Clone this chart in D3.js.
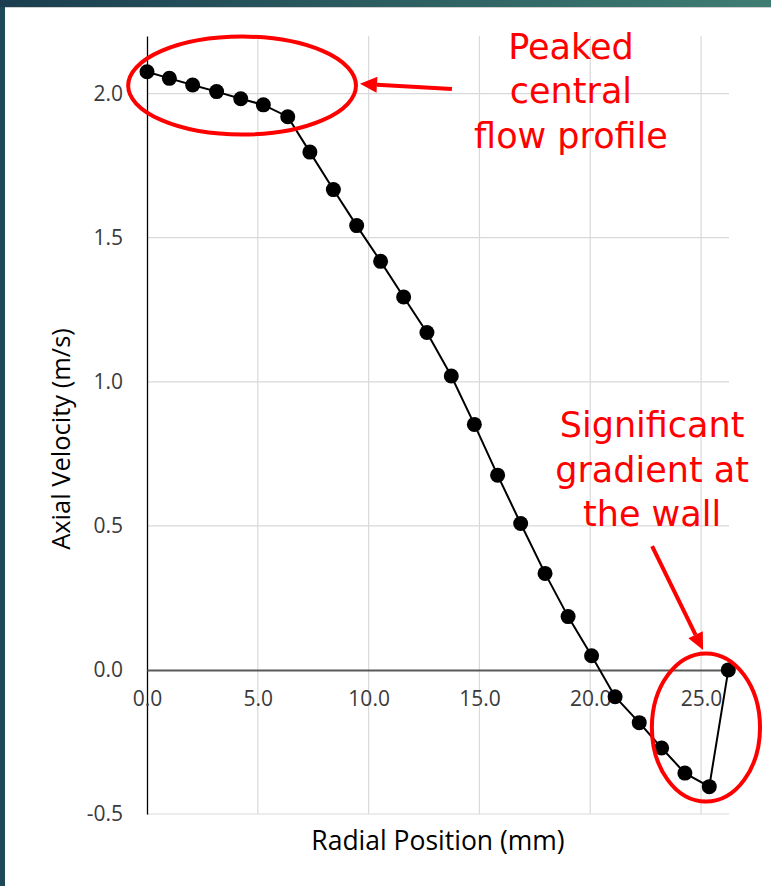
<!DOCTYPE html>
<html>
<head>
<meta charset="utf-8">
<script src="https://cdn.jsdelivr.net/npm/d3@7"></script>
<style>
  html, body { margin: 0; padding: 0; background: #fff; }
  svg { display: block; }
</style>
</head>
<body>
<div id="chart"></div>
<script>
// axial velocity profile across the pipe radius

const radialPos = [0, 1.01, 2.06, 3.14, 4.23, 5.25, 6.35, 7.35, 8.41, 9.46, 10.54, 11.58, 12.63,
  13.73, 14.77, 15.82, 16.86, 17.96, 19.0, 20.06, 21.12, 22.21, 23.22, 24.27, 25.37, 26.23];
const axialVel = [2.076, 2.053, 2.030, 2.007, 1.982, 1.961, 1.920, 1.797, 1.667, 1.542, 1.418, 1.294, 1.171,
  1.020, 0.852, 0.676, 0.508, 0.335, 0.185, 0.049, -0.093, -0.183, -0.271, -0.358, -0.405, 0];
const xTicks = [0, 5, 10, 15, 20, 25];
const yTicks = [-0.5, 0, 0.5, 1.0, 1.5, 2.0];

const xTitle = "Radial Position (mm)";
const yTitle = "Axial Velocity (m/s)";
const note1 = ["Peaked", "central", "flow profile"];
const note2 = ["Significant", "gradient at", "the wall"];

const width = 771;
const height = 886;
const marginTop = 36;
const marginLeft = 147;
const plotRight = 729;
const plotBottom = 814;

const svg = d3.select("#chart").append("svg")
    .attr("width", width)
    .attr("height", height)
    .attr("viewBox", [0, 0, width, height]);

// slide frame
const grad = svg.append("defs").append("linearGradient")
    .attr("id", "band").attr("x1", 0).attr("x2", 1);
grad.append("stop").attr("offset", 0).attr("stop-color", "#1a3e4f");
grad.append("stop").attr("offset", 1).attr("stop-color", "#3f7d73");
svg.append("rect").attr("width", width).attr("height", 7).attr("fill", "url(#band)");
svg.append("rect").attr("y", 7).attr("width", 5).attr("height", height - 7).attr("fill", "#1c4858");
svg.append("line").attr("x1", 5).attr("x2", width).attr("y1", 7.5).attr("y2", 7.5)
    .attr("stroke", "#d0d0d0");

const x = d3.scaleLinear([0, 26.26], [marginLeft, plotRight]);
const y = d3.scaleLinear([-0.5, 2.2], [plotBottom, marginTop]);

// gridlines
svg.append("g")
    .attr("stroke", "#d9d9d9")
    .attr("stroke-width", 1.2)
    .call(g => g.selectAll(".v").data(xTicks.filter(d => d > 0)).join("line")
        .attr("x1", d => x(d)).attr("x2", d => x(d))
        .attr("y1", marginTop).attr("y2", plotBottom))
    .call(g => g.selectAll(".h").data(yTicks.filter(d => d !== 0)).join("line")
        .attr("x1", marginLeft).attr("x2", plotRight)
        .attr("y1", d => y(d)).attr("y2", d => y(d)));

// y axis
svg.append("g")
    .attr("transform", `translate(${marginLeft},0)`)
    .call(d3.axisLeft(y).tickValues(yTicks).tickFormat(d => d.toFixed(1))
        .tickSize(0).tickPadding(24))
    .call(g => g.select(".domain").attr("stroke", "#000").attr("stroke-width", 1.3))
    .call(g => g.selectAll("text")
        .attr("font-family", "'Open Sans', sans-serif")
        .attr("font-size", 21)
        .attr("fill", "#3a3a3a"));

// x axis sits on zero
svg.append("g")
    .attr("transform", `translate(0,${y(0)})`)
    .call(d3.axisBottom(x).tickValues(xTicks).tickFormat(d => d.toFixed(1))
        .tickSize(0).tickPadding(21))
    .call(g => g.select(".domain").attr("stroke", "#595959").attr("stroke-width", 2))
    .call(g => g.selectAll("text")
        .attr("font-family", "'Open Sans', sans-serif")
        .attr("font-size", 21)
        .attr("fill", "#3a3a3a"));

// axis titles
svg.append("text")
    .attr("x", 438)
    .attr("y", 850)
    .attr("text-anchor", "middle")
    .attr("font-family", "'Open Sans', sans-serif")
    .attr("font-size", 26.5)
    .attr("fill", "#000")
    .text(xTitle);

svg.append("text")
    .attr("transform", `translate(70,439) rotate(-90)`)
    .attr("text-anchor", "middle")
    .attr("font-family", "'Open Sans', sans-serif")
    .attr("font-size", 25.5)
    .attr("fill", "#000")
    .text(yTitle);

// profile line + markers
const pts = radialPos.map((r, i) => [r, axialVel[i]]);
svg.append("path")
    .datum(pts)
    .attr("fill", "none")
    .attr("stroke", "#000")
    .attr("stroke-width", 2)
    .attr("d", d3.line().x(d => x(d[0])).y(d => y(d[1])));

svg.append("g")
    .selectAll("circle")
    .data(pts)
    .join("circle")
    .attr("cx", d => x(d[0]))
    .attr("cy", d => y(d[1]))
    .attr("r", 7.5)
    .attr("fill", "#000");

// red callouts (positions in data units)
const red = "#ff0000";
const ann = svg.append("g").attr("fill", "none").attr("stroke", red).attr("stroke-width", 4);
const pxX = 582 / 26.26, pxY = 778 / 2.7;

function ellipse(cx, cy, rx, ry) {
  ann.append("ellipse")
      .attr("cx", x(cx)).attr("cy", y(cy))
      .attr("rx", rx * pxX).attr("ry", ry * pxY);
}

function arrow(x0, y0, x1, y1) {
  const ax = x(x0), ay = y(y0), bx = x(x1), by = y(y1);
  const a = Math.atan2(by - ay, bx - ax);
  const len = 17, half = 8;
  const baseX = bx - len * Math.cos(a), baseY = by - len * Math.sin(a);
  ann.append("line").attr("x1", ax).attr("y1", ay).attr("x2", baseX).attr("y2", baseY);
  ann.append("path")
      .attr("stroke", "none")
      .attr("fill", red)
      .attr("d", d3.line()([
        [bx, by],
        [baseX + half * Math.sin(a), baseY - half * Math.cos(a)],
        [baseX - half * Math.sin(a), baseY + half * Math.cos(a)]
      ]) + "Z");
}

ellipse(4.29, 2.028, 5.14, 0.170);
arrow(13.76, 2.016, 9.61, 2.034);
ellipse(25.22, -0.200, 2.44, 0.257);
arrow(22.79, 0.430, 25.09, 0.069);

function note(lines, cx, y0) {
  svg.append("g")
      .attr("font-family", "'DejaVu Sans', sans-serif")
      .attr("font-size", 35)
      .attr("fill", red)
      .attr("text-anchor", "middle")
      .selectAll("text")
      .data(lines)
      .join("text")
      .attr("x", x(cx))
      .attr("y", (d, i) => y(y0) + i * 44.5)
      .text(d => d);
}

note(note1, 19.13, 2.121);
note(note2, 22.79, 0.808);
</script>
</body>
</html>
